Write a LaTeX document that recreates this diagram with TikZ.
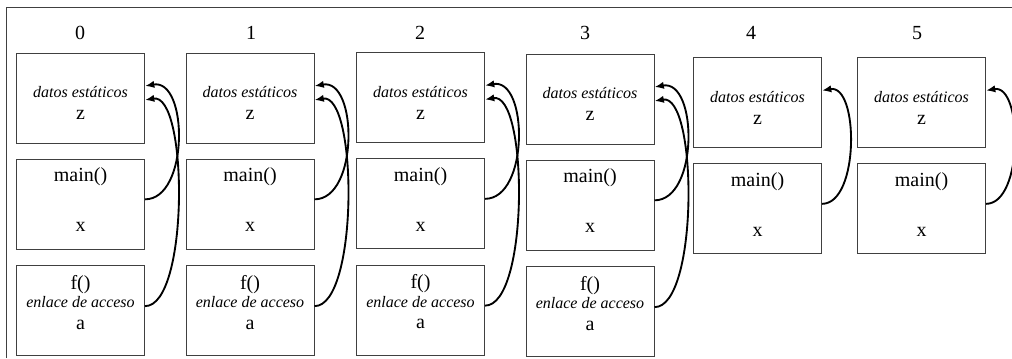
\documentclass[tikz,border=0pt]{standalone}
\usepackage{fontspec}
\setmainfont{Liberation Serif}
\usetikzlibrary{positioning,arrows.meta}

\newcommand{\itsmall}{\fontsize{12}{14}\selectfont\itshape}

\begin{document}
\begin{tikzpicture}[
    x=0.75pt, y=-0.75pt,
    node distance=11.5pt,
    frame/.style={
        rectangle, draw=black!75, line width=0.75pt, inner sep=0pt,
        minimum width=96pt, minimum height=67.5pt, align=center,
        font=\fontsize{15}{17}\selectfont
    },
    num/.style={inner sep=0pt, font=\fontsize{15}{17}\selectfont},
    link/.style={-{Latex[length=7pt,width=5.5pt]}, line width=1.4pt}
]
    \useasboundingbox (0,0) rectangle (1012,358);
    \draw [black!75, line width=0.75pt] (6,358) -- (6,7) -- (1012,7);

    % activation 0
    \node (d0) [frame] at (80.5,98) {{\itsmall\rule{0pt}{16pt}datos estáticos}\\[-0.5pt]z};
    \node (m0) [frame, below=of d0] {main()\\[20.5pt]x\rule[-7pt]{0pt}{0pt}};
    \node (f0) [frame, below=of m0] {f()\\[-3pt]{\itsmall enlace de acceso}\\[-1pt]a\rule[-13pt]{0pt}{0pt}};
    \node (h0) [num] at (80,33) {0};

    % activation 1
    \node (d1) [frame] at (250,98) {{\itsmall\rule{0pt}{16pt}datos estáticos}\\[-0.5pt]z};
    \node (m1) [frame, below=of d1] {main()\\[20.5pt]x\rule[-7pt]{0pt}{0pt}};
    \node (f1) [frame, below=of m1] {f()\\[-3pt]{\itsmall enlace de acceso}\\[-1pt]a\rule[-13pt]{0pt}{0pt}};
    \node (h1) [num] at (251,33) {1};

    % activation 2
    \node (d2) [frame] at (420.5,97.5) {{\itsmall\rule{0pt}{16pt}datos estáticos}\\[-0.5pt]z};
    \node (m2) [frame, below=of d2] {main()\\[20.5pt]x\rule[-7pt]{0pt}{0pt}};
    \node (f2) [frame, below=of m2] {f()\\[-3pt]{\itsmall enlace de acceso}\\[-1pt]a\rule[-13pt]{0pt}{0pt}};
    \node (h2) [num] at (420,33) {2};

    % activation 3
    \node (d3) [frame] at (590,99) {{\itsmall\rule{0pt}{16pt}datos estáticos}\\[-0.5pt]z};
    \node (m3) [frame, below=of d3] {main()\\[20.5pt]x\rule[-7pt]{0pt}{0pt}};
    \node (f3) [frame, below=of m3] {f()\\[-3pt]{\itsmall enlace de acceso}\\[-1pt]a\rule[-13pt]{0pt}{0pt}};
    \node (h3) [num] at (585,33) {3};

    % activation 4, f() already returned
    \node (d4) [frame] at (757.5,102.5) {{\itsmall\rule{0pt}{16pt}datos estáticos}\\[-0.5pt]z};
    \node (m4) [frame, below=of d4] {main()\\[20.5pt]x\rule[-7pt]{0pt}{0pt}};
    \node (h4) [num] at (751,33) {4};

    % activation 5
    \node (d5) [frame] at (921.5,102.5) {{\itsmall\rule{0pt}{16pt}datos estáticos}\\[-0.5pt]z};
    \node (m5) [frame, below=of d5] {main()\\[20.5pt]x\rule[-7pt]{0pt}{0pt}};
    \node (h5) [num] at (917,33) {5};

    % access links back to the static data
    \draw [link] ([yshift=3.75pt]m0.east) to [out=0, in=10] ([yshift=9pt]d0.east);
    \draw [link] ([yshift=3.4pt]f0.east) to [out=0, in=10, looseness=0.55] ([yshift=-1.5pt]d0.east);

    \draw [link] ([yshift=3.75pt]m1.east) to [out=0, in=10] ([yshift=9pt]d1.east);
    \draw [link] ([yshift=3.4pt]f1.east) to [out=0, in=10, looseness=0.55] ([yshift=-1.5pt]d1.east);

    \draw [link] ([yshift=3.75pt]m2.east) to [out=0, in=10] ([yshift=9pt]d2.east);
    \draw [link] ([yshift=3.4pt]f2.east) to [out=0, in=10, looseness=0.55] ([yshift=-1.5pt]d2.east);

    \draw [link] ([yshift=3.75pt]m3.east) to [out=0, in=10] ([yshift=9pt]d3.east);
    \draw [link] ([yshift=3.4pt]f3.east) to [out=0, in=10, looseness=0.55] ([yshift=-1.5pt]d3.east);

    \draw [link] ([yshift=3.75pt]m4.east) to [out=0, in=10, looseness=0.85] ([yshift=9pt]d4.east);
    \draw [link] ([yshift=3.75pt]m5.east) to [out=0, in=10, looseness=0.85] ([yshift=9pt]d5.east);
\end{tikzpicture}
\end{document}
